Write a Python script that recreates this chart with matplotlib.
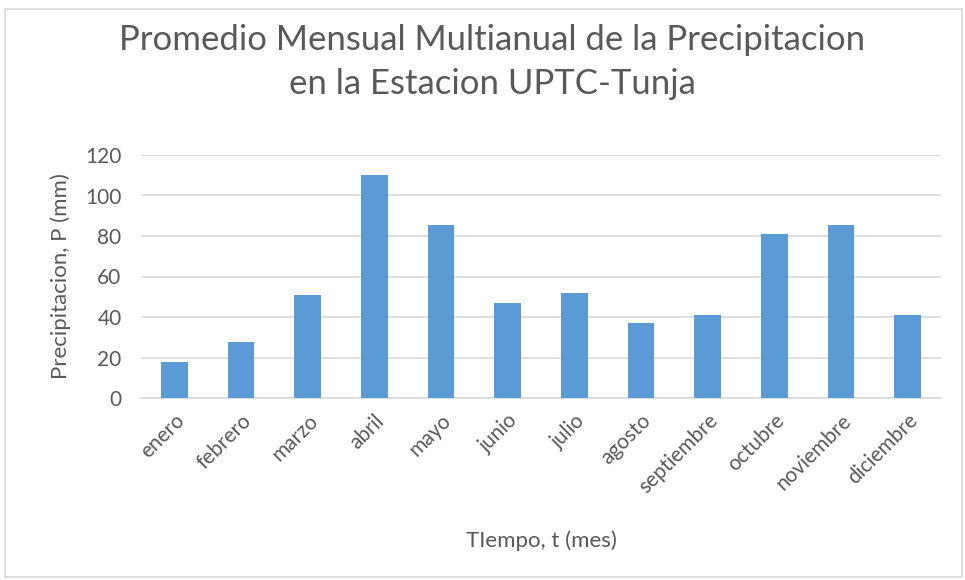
import matplotlib.pyplot as plt
from matplotlib.patches import Rectangle

# monthly multiannual mean precipitation, UPTC-Tunja station
meses = ['enero', 'febrero', 'marzo', 'abril', 'mayo', 'junio', 'julio',
         'agosto', 'septiembre', 'octubre', 'noviembre', 'diciembre']
precip = [18.0, 27.9, 50.7, 110.1, 85.6, 47.0, 52.0, 36.8, 40.8, 81.2, 85.6, 40.8]
y_ticks = [0, 20, 40, 60, 80, 100, 120]

plt.rcParams['font.family'] = ['Lato', 'DejaVu Sans']
gray = '#595959'

fig = plt.figure(figsize=(9.65, 5.8), dpi=100)
ax = fig.add_axes([141 / 965, 1 - 398 / 580, 800 / 965, 243 / 580])

x = range(len(meses))
ax.bar(x, precip, width=0.4, color='#5B9BD5', zorder=3)

ax.set_xlim(-0.5, len(meses) - 0.5)
ax.set_ylim(0, 120)
ax.set_yticks(y_ticks)
ax.set_xticks(list(x))
ax.set_xticklabels(meses, rotation=45, ha='right', rotation_mode='anchor')
ax.tick_params(axis='both', length=0, colors=gray, labelsize=15)
ax.tick_params(axis='y', pad=14)
ax.tick_params(axis='x', pad=9)

ax.grid(axis='y', color='#D9D9D9', linewidth=1.2, zorder=0)
for s in ['top', 'right', 'left']:
    ax.spines[s].set_visible(False)
ax.spines['bottom'].set_color('#D9D9D9')
ax.spines['bottom'].set_linewidth(1.2)

ax.set_ylabel('Precipitacion, P (mm)', color=gray, fontsize=16, labelpad=10)
fig.text(541 / 965, 1 - 541 / 580, 'TIempo, t (mes)', color=gray, fontsize=16,
         ha='center', va='center')

fig.text(492 / 965, 1 - 40 / 580, 'Promedio Mensual Multianual de la Precipitacion',
         color=gray, fontsize=25, ha='center', va='center')
fig.text(492 / 965, 1 - 84 / 580, 'en la Estacion UPTC-Tunja',
         color=gray, fontsize=25, ha='center', va='center')

# chart border
fig.patches.append(Rectangle((5 / 965, 3 / 580), 957 / 965, 568 / 580,
                             transform=fig.transFigure, fill=False,
                             edgecolor='#D9D9D9', linewidth=1.2))

plt.savefig('out.png', dpi=100)
